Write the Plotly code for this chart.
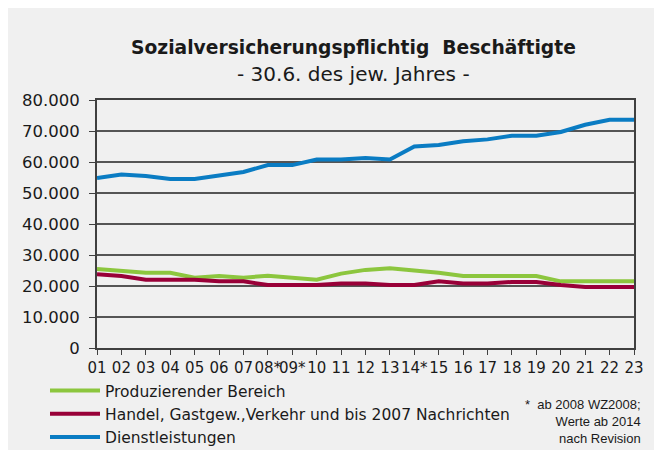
import plotly.graph_objects as go

years = ["01", "02", "03", "04", "05", "06", "07", "08*", "09*", "10", "11", "12",
         "13", "14*", "15", "16", "17", "18", "19", "20", "21", "22", "23"]

produzierend = [25500, 25000, 24300, 24300, 22700, 23200, 22700, 23300, 22700, 22000, 24000, 25200,
                25700, 25000, 24300, 23200, 23200, 23200, 23200, 21500, 21500, 21500, 21500]
handel = [23800, 23200, 22000, 22000, 22000, 21500, 21500, 20300, 20300, 20300, 20800, 20800,
          20300, 20300, 21500, 20800, 20800, 21300, 21300, 20300, 19700, 19700, 19700]
dienst = [54800, 56000, 55500, 54500, 54500, 55700, 56800, 59000, 59000, 60800, 60800, 61300,
          60800, 65000, 65500, 66700, 67300, 68500, 68500, 69700, 72000, 73600, 73600]

y_ticks = [0, 10000, 20000, 30000, 40000, 50000, 60000, 70000, 80000]

FONT = "DejaVu Sans, Liberation Sans, sans-serif"
# page body has an 8px margin, so the figure sits at (8, 8)
OFF = 8
W, H = 648, 442
ML, MR, MT, MB = 97 - OFF, W - (634 - OFF), 100 - OFF, H - (348 - OFF)
pw, ph = W - ML - MR, H - MT - MB


def px(x):
    # page pixel -> paper x
    return (x - OFF - ML) / pw


def py(y):
    # page pixel -> paper y
    return (H - MB - (y - OFF)) / ph


fig = go.Figure()
fig.add_trace(go.Scatter(x=years, y=produzierend, mode='lines', name='Produzierender Bereich',
                         line=dict(color='#8cc63e', width=4)))
fig.add_trace(go.Scatter(x=years, y=handel, mode='lines',
                         name='Handel, Gastgew.,Verkehr und bis 2007 Nachrichten',
                         line=dict(color='#990038', width=4)))
fig.add_trace(go.Scatter(x=years, y=dienst, mode='lines', name='Dienstleistungen',
                         line=dict(color='#0a7cc3', width=4)))

fig.add_annotation(text="<b>Sozialversicherungspflichtig  Beschäftigte</b>",
                   xref='paper', yref='paper', x=px(353), y=py(47),
                   xanchor='center', yanchor='middle',
                   showarrow=False, font=dict(family=FONT, size=18.7, color='#1a1a1a'))
fig.add_annotation(text="- 30.6. des jew. Jahres -",
                   xref='paper', yref='paper', x=px(353), y=py(74),
                   xanchor='center', yanchor='middle',
                   showarrow=False, font=dict(family=FONT, size=20, color='#1a1a1a'))
fig.add_annotation(text="*  ab 2008 WZ2008;<br>Werte ab 2014<br>nach Revision",
                   xref='paper', yref='paper', x=px(643), y=py(421),
                   xanchor='right', yanchor='middle', align='right', showarrow=False,
                   font=dict(family="Liberation Sans, Arial, sans-serif", size=13, color='#1a1a1a'))

fig.update_xaxes(type='category', range=[0, len(years) - 1], showgrid=False,
                 showline=True, linecolor='#404040', linewidth=2, mirror=True,
                 ticks='outside', ticklen=5, tickcolor='#404040',
                 tickfont=dict(family=FONT, size=15, color='#1a1a1a'), tickangle=0)
fig.update_yaxes(range=[0, 80000], tickvals=y_ticks, tickformat=',d',
                 showgrid=True, gridcolor='#555555', gridwidth=1.5,
                 showline=True, linecolor='#404040', linewidth=2, mirror=True,
                 ticks='outside', ticklen=6, tickcolor='#404040', ticklabelstandoff=6,
                 tickfont=dict(family=FONT, size=16.5, color='#1a1a1a'), zeroline=False)

fig.update_layout(
    width=W, height=H,
    margin=dict(l=ML, r=MR, t=MT, b=MB, autoexpand=False),
    paper_bgcolor='#f0f0f0',
    plot_bgcolor='#f0f0f0',
    separators=',.',
    showlegend=True,
    legend=dict(x=px(45), y=py(374), xanchor='left', yanchor='top',
                bgcolor='rgba(0,0,0,0)', tracegroupgap=0, itemwidth=50,
                font=dict(family=FONT, size=15.5, color='#1a1a1a')),
)

fig.write_html("out.html")
